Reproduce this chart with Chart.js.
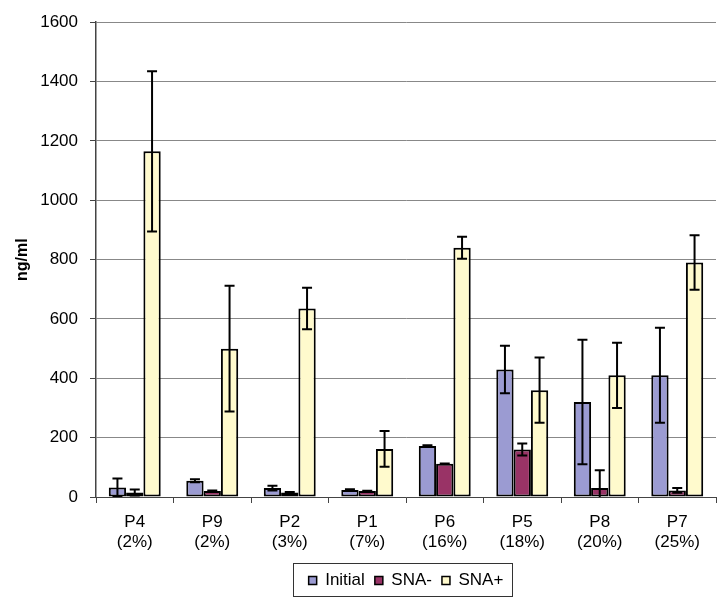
<!DOCTYPE html>
<html>
<head>
<meta charset="utf-8">
<script src="https://cdn.jsdelivr.net/npm/chart.js@4.4.1/dist/chart.umd.min.js"></script>
<style>
  html, body { margin: 0; padding: 0; background: #fff; }
  #wrap { width: 726px; height: 615px; }
</style>
</head>
<body>
<div id="wrap"><canvas id="c"></canvas></div>
<script>
const patients = ['P4', 'P9', 'P2', 'P1', 'P6', 'P5', 'P8', 'P7']
const percents = ['(2%)', '(2%)', '(3%)', '(7%)', '(16%)', '(18%)', '(20%)', '(25%)']

const initial = [32, 55, 30, 24, 172, 430, 320, 410]
const initialErr = [30, 5, 8, 2, 2, 80, 210, 160]
const snaMinus = [15, 20, 15, 20, 112, 160, 30, 22]
const snaMinusErr = [10, 2, 2, 1, 1, 20, 60, 8]
const snaPlus = [1165, 500, 635, 162, 840, 360, 410, 790]
const snaPlusErr = [270, 212, 70, 60, 37, 110, 110, 92]

const yTicks = [0, 200, 400, 600, 800, 1000, 1200, 1400, 1600]

const font = 'Liberation Sans, Arial, sans-serif'

// draws the +/- bars from each dataset's err array
const errorBars = {
  id: 'errorBars',
  afterDatasetsDraw(chart) {
    const {ctx, chartArea, scales: {y}} = chart
    ctx.save()
    ctx.beginPath()
    ctx.rect(chartArea.left, chartArea.top, chartArea.right - chartArea.left, chartArea.bottom - chartArea.top)
    ctx.clip()
    ctx.strokeStyle = '#000'
    ctx.lineWidth = 2
    chart.data.datasets.forEach((ds, i) => {
      chart.getDatasetMeta(i).data.forEach((bar, j) => {
        const v = ds.data[j], e = ds.err[j]
        const top = y.getPixelForValue(v + e)
        const bot = y.getPixelForValue(v - e)
        const x = bar.x
        ctx.beginPath()
        ctx.moveTo(x, top); ctx.lineTo(x, bot)
        ctx.moveTo(x - 5, top); ctx.lineTo(x + 5, top)
        ctx.moveTo(x - 5, bot); ctx.lineTo(x + 5, bot)
        ctx.stroke()
      })
    })
    ctx.restore()
  }
}

// centres the legend under the plot and frames it
const legendBox = {
  id: 'legendBox',
  afterLayout(chart) {
    const lg = chart.legend, ca = chart.chartArea
    const dx = (ca.left + ca.right) / 2 - (lg.left + lg.right) / 2
    lg.left += dx
    lg.right += dx
  },
  afterDraw(chart) {
    const boxes = chart.legend.legendHitBoxes
    if (!boxes || !boxes.length) return
    const l = Math.min(...boxes.map(b => b.left)) - 16
    const r = Math.max(...boxes.map(b => b.left + b.width)) + 8
    const cy = boxes[0].top + boxes[0].height / 2
    const ctx = chart.ctx
    ctx.save()
    ctx.strokeStyle = '#333'
    ctx.lineWidth = 1
    ctx.strokeRect(Math.round(l) + 0.5, Math.round(cy - 18) + 0.5, Math.round(r - l), 33)
    ctx.restore()
  }
}

new Chart(document.getElementById('c'), {
  type: 'bar',
  data: {
    labels: patients.map((p, i) => [p, percents[i]]),
    datasets: [
      { label: 'Initial', data: initial, err: initialErr, backgroundColor: '#9b9bd2' },
      { label: 'SNA-', data: snaMinus, err: snaMinusErr, backgroundColor: '#993366' },
      { label: 'SNA+', data: snaPlus, err: snaPlusErr, backgroundColor: '#fffacd' }
    ].map(d => ({
      borderColor: '#000',
      borderWidth: 2,
      borderSkipped: false,
      barPercentage: 1,
      categoryPercentage: 0.67,
      ...d
    }))
  },
  options: {
    responsive: true,
    maintainAspectRatio: false,
    animation: false,
    layout: { padding: { top: 22, right: 10, bottom: 16, left: 0 } },
    scales: {
      x: {
        grid: { drawOnChartArea: false, drawTicks: true, tickLength: 6, color: '#444', offset: true },
        border: { color: '#444', width: 1 },
        ticks: { font: { family: font, size: 17 }, color: '#000', padding: 9, maxRotation: 0 },
        afterFit(s) { s.height = 65 }
      },
      y: {
        min: 0,
        max: 1600,
        afterBuildTicks(s) { s.ticks = yTicks.map(v => ({ value: v })) },
        grid: { color: '#888', lineWidth: 1, tickLength: 6, tickColor: '#444' },
        border: { color: '#444', width: 1.5 },
        ticks: { font: { family: font, size: 17 }, color: '#000', padding: 12, callback: v => String(v) },
        title: { display: true, text: 'ng/ml', font: { family: font, size: 16, weight: 'bold' }, color: '#000', padding: { top: 13, bottom: 0 } },
        afterFit(s) { s.width = 96 }
      }
    },
    plugins: {
      tooltip: { enabled: false },
      legend: {
        position: 'bottom',
        labels: {
          font: { family: font, size: 17 },
          color: '#000',
          boxWidth: 8,
          boxHeight: 8,
          padding: 10,
          generateLabels(chart) {
            return Chart.defaults.plugins.legend.labels.generateLabels(chart).map(l => ({ ...l, lineWidth: 1.5 }))
          }
        }
      }
    }
  },
  plugins: [errorBars, legendBox]
})
</script>
</body>
</html>
